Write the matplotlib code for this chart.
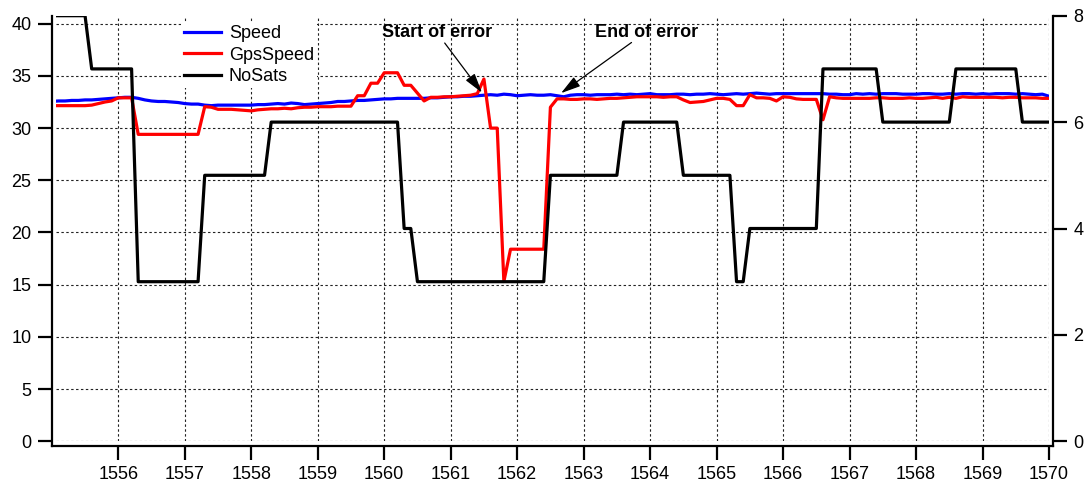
import numpy as np
import matplotlib
matplotlib.use("Agg")
import matplotlib.pyplot as plt

plt.rcParams['font.family'] = ['Liberation Sans', 'DejaVu Sans']

# ---------------- data (sampled every 0.1 s) ----------------
time_start = 1555.0
time_step = 0.1

speed = [
    32.55, 32.6, 32.6, 32.65, 32.65, 32.7, 32.7, 32.75, 32.8, 32.85,
    32.9, 32.95, 32.95, 32.85, 32.7, 32.6, 32.55, 32.55, 32.5, 32.45,
    32.35, 32.3, 32.3, 32.2, 32.15, 32.2, 32.2, 32.2, 32.2, 32.2,
    32.2, 32.25, 32.25, 32.3, 32.35, 32.3, 32.4, 32.35, 32.25, 32.3,
    32.35, 32.4, 32.45, 32.55, 32.55, 32.6, 32.65, 32.65, 32.7, 32.75,
    32.8, 32.8, 32.85, 32.85, 32.85, 32.85, 32.85, 32.9, 32.9, 32.95,
    33.0, 33.0, 33.05, 33.05, 33.1, 33.15, 33.2, 33.15, 33.25, 33.2,
    33.1, 33.15, 33.2, 33.15, 33.15, 33.2, 33.1, 33.0, 33.15, 33.2,
    33.2, 33.15, 33.2, 33.2, 33.2, 33.25, 33.2, 33.25, 33.2, 33.25,
    33.3, 33.2, 33.2, 33.2, 33.25, 33.25, 33.2, 33.25, 33.25, 33.3,
    33.25, 33.2, 33.25, 33.3, 33.25, 33.3, 33.35, 33.3, 33.25, 33.3,
    33.3, 33.3, 33.3, 33.3, 33.3, 33.3, 33.3, 33.25, 33.25, 33.2,
    33.2, 33.3, 33.25, 33.3, 33.25, 33.3, 33.3, 33.3, 33.25, 33.25,
    33.25, 33.3, 33.3, 33.25, 33.25, 33.3, 33.25, 33.3, 33.3, 33.25,
    33.3, 33.25, 33.3, 33.3, 33.3, 33.25, 33.3, 33.25, 33.2, 33.25,
    33.05,
]

gps_speed = [
    32.15, 32.15, 32.15, 32.15, 32.15, 32.15, 32.2, 32.35, 32.5, 32.6,
    32.9, 32.9, 32.9, 29.4, 29.4, 29.4, 29.4, 29.4, 29.4, 29.4,
    29.4, 29.4, 29.4, 32.05, 32.0, 31.8, 31.8, 31.8, 31.75, 31.7,
    31.65, 31.75, 31.8, 31.85, 31.85, 31.9, 31.85, 31.95, 32.0, 32.0,
    32.05, 32.05, 32.05, 32.1, 32.1, 32.1, 33.1, 33.1, 34.3, 34.3,
    35.3, 35.3, 35.3, 34.1, 34.1, 33.35, 32.6, 32.95, 32.95, 33.0,
    33.0, 33.05, 33.1, 33.15, 33.3, 34.7, 30.0, 30.0, 15.3, 18.4,
    18.4, 18.4, 18.4, 18.4, 18.4, 32.0, 32.8, 32.8, 32.75, 32.75,
    32.8, 32.8, 32.75, 32.8, 32.85, 32.85, 32.9, 32.95, 33.0, 33.0,
    33.0, 33.0, 32.95, 33.0, 33.0, 32.7, 32.45, 32.5, 32.55, 32.7,
    32.85, 32.85, 32.75, 32.15, 32.15, 33.2, 32.9, 32.9, 32.85, 32.6,
    33.0, 32.95, 32.8, 32.75, 32.75, 32.75, 30.8, 33.0, 32.9, 32.85,
    32.85, 32.85, 32.85, 32.85, 32.9, 32.9, 32.85, 32.85, 32.85, 32.9,
    32.85, 32.85, 32.9, 32.95, 32.85, 32.95, 32.85, 33.0, 32.95, 32.95,
    32.95, 32.95, 32.95, 32.9, 32.95, 32.95, 32.9, 32.9, 32.9, 32.85,
    32.85,
]

no_sats = (
    [8] * 6 + [7] * 7 + [3] * 10 + [5] * 10 + [6] * 20 + [4] * 2 +
    [3] * 20 + [5] * 11 + [6] * 9 + [5] * 8 + [3] * 2 + [4] * 11 +
    [7] * 9 + [6] * 11 + [7] * 10 + [6] * 5
)

time_s = np.round(time_start + time_step * np.arange(len(speed)), 2)

x_ticks = list(range(1556, 1571))
left_ticks = [0, 5, 10, 15, 20, 25, 30, 35, 40]
right_ticks = [0, 2, 4, 6, 8]

annotations = [
    ("Start of error", (1561.47, 33.4), (1560.79, 38.75), (1560.91, 38.15)),
    ("End of error", (1562.66, 33.35), (1563.94, 38.75), (1563.72, 38.2)),
]

# ---------------- figure ----------------
W, H = 1091, 491
fig = plt.figure(figsize=(W / 100, H / 100), dpi=100)
ax_l, ax_r, ax_t, ax_b = 56, 1049, 15.7, 441.3
ax = fig.add_axes([ax_l / W, 1 - ax_b / H, (ax_r - ax_l) / W, (ax_b - ax_t) / H])
ax2 = ax.twinx()

lw = 2.3
l1, = ax.plot(time_s, speed, color='#0000ff', lw=lw, label='Speed', zorder=3)
l2, = ax.plot(time_s, gps_speed, color='#ff0000', lw=lw, label='GpsSpeed', zorder=4)
l3, = ax2.plot(time_s, no_sats, color='black', lw=lw, label='NoSats', zorder=3)

ax.set_xlim(1555.063, 1570.0)
ax.set_ylim(0, 40.766)
ax2.set_ylim(0, 8)

ax.set_xticks(x_ticks)
ax.set_xticklabels([str(v) for v in x_ticks])
ax.set_yticks(left_ticks)
ax2.set_yticks(right_ticks)

ax.grid(True, which='major', color='#222222', linestyle=(0, (2.2, 2.2)), linewidth=0.8)

fs = 13
for a in (ax, ax2):
    a.tick_params(axis='both', direction='out', length=10, width=1.6,
                  labelsize=fs, pad=4.5, colors='black')
    a.spines['top'].set_visible(False)

ax.spines['left'].set_position(('outward', 3.2))
ax.spines['bottom'].set_position(('outward', 3.4))
ax.spines['left'].set_bounds(-0.45, 40.766)
ax.spines['bottom'].set_bounds(1555.0, 1570.06)
ax.spines['right'].set_visible(False)
ax2.spines['left'].set_visible(False)
ax2.spines['bottom'].set_visible(False)
ax2.spines['right'].set_position(('outward', 2.9))
ax2.spines['right'].set_bounds(-0.09, 8)
for sp in (ax.spines['left'], ax.spines['bottom'], ax2.spines['right']):
    sp.set_linewidth(1.6)
    sp.set_color('black')

# legend
leg_left = (181 - ax_l) / (ax_r - ax_l)
leg_top = 1 - (22.5 - ax_t) / (ax_b - ax_t)
leg = ax2.legend([l1, l2, l3], ['Speed', 'GpsSpeed', 'NoSats'],
                 loc='upper left', bbox_to_anchor=(leg_left, leg_top),
                 borderaxespad=0, borderpad=0.15, frameon=True, fancybox=False,
                 facecolor='white', edgecolor='none', framealpha=1,
                 fontsize=fs, handlelength=2.05, handletextpad=0.45,
                 labelspacing=0.24)

# annotations
for text, tip, txt_pos, tail in annotations:
    ax.text(txt_pos[0], txt_pos[1], text, fontsize=fs, fontweight='bold',
            ha='center', va='baseline', zorder=6)
    ax.annotate('', xy=tip, xytext=tail,
                arrowprops=dict(arrowstyle='-|>,head_length=0.6,head_width=0.17',
                                mutation_scale=20, color='black', lw=0.9,
                                shrinkA=0, shrinkB=0),
                zorder=6)

fig.savefig('out.png', dpi=100)
